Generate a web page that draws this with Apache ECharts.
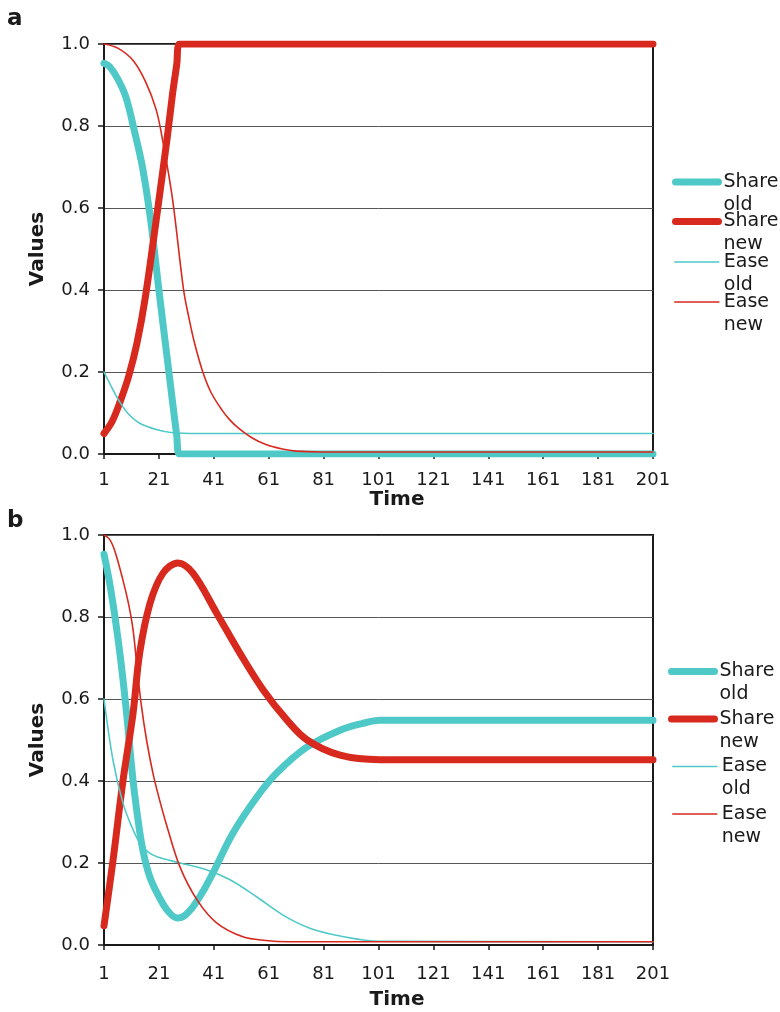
<!DOCTYPE html>
<html>
<head>
<meta charset="utf-8">
<script src="https://cdn.jsdelivr.net/npm/echarts@6/dist/echarts.min.js"></script>
<style>html,body{margin:0;padding:0;background:#fff}#c{width:780px;height:1012px}</style>
</head>
<body>
<div id="c"></div>
<script>
// ---------- data ----------
const seriesNames = ['Share old', 'Share new', 'Ease old', 'Ease new'];
const legendLabels = ['Share\nold', 'Share\nnew', 'Ease\nold', 'Ease\nnew'];
const xTickValues = [1, 21, 41, 61, 81, 101, 121, 141, 161, 181, 201];
const yTickValues = [0.0, 0.2, 0.4, 0.6, 0.8, 1.0];

// Panel a
const aShareOldT = [1, 3, 6, 9, 12, 15, 18, 21, 24, 26, 27.5, 28.5, 201];
const aShareOldV = [0.953, 0.945, 0.915, 0.87, 0.79, 0.70, 0.57, 0.40, 0.235, 0.125, 0.045, 0.0, 0.0];
const aShareNewT = [1, 4, 7, 10, 13, 16, 20, 24, 26, 27.5, 28.5, 201];
const aShareNewV = [0.05, 0.08, 0.13, 0.19, 0.27, 0.38, 0.57, 0.77, 0.88, 0.95, 1.0, 1.0];
const aEaseOldT = [1, 4, 7, 10, 14, 20, 26, 35, 201];
const aEaseOldV = [0.20, 0.16, 0.124, 0.097, 0.075, 0.06, 0.052, 0.05, 0.05];
const aEaseNewT = [1, 6, 11.6, 16, 20, 22.5, 26, 30, 32, 34, 37, 40, 44, 47, 50, 55, 60, 66, 71, 80, 201];
const aEaseNewV = [1.0, 0.99, 0.96, 0.91, 0.84, 0.76, 0.62, 0.40, 0.33, 0.27, 0.20, 0.150, 0.107, 0.082, 0.063, 0.039, 0.023, 0.012, 0.007, 0.005, 0.005];

// Panel b
const bShareOldT = [1, 3, 5, 7, 9, 11.6, 13.5, 15.2, 17.5, 20.3, 24, 27.6, 30, 33.4, 37, 40.7, 48, 56.7, 64, 75, 87, 95, 101.5, 201];
const bShareOldV = [0.953, 0.885, 0.80, 0.70, 0.58, 0.40, 0.30, 0.23, 0.17, 0.127, 0.085, 0.066, 0.07, 0.093, 0.13, 0.176, 0.273, 0.361, 0.42, 0.483, 0.524, 0.540, 0.548, 0.548];
const bShareNewT = [1, 4.3, 7.9, 11.6, 14, 17.8, 22.5, 27.9, 33.4, 42, 50.5, 59, 67.6, 75, 87, 101.5, 201];
const bShareNewV = [0.047, 0.207, 0.40, 0.566, 0.712, 0.834, 0.907, 0.932, 0.907, 0.81, 0.712, 0.622, 0.549, 0.50, 0.463, 0.452, 0.452];
const bEaseOldT = [1, 4.3, 7.9, 11, 14, 17, 20.3, 28.7, 38.5, 46.9, 56.7, 66.2, 76, 87, 101.5, 201];
const bEaseOldV = [0.60, 0.45, 0.346, 0.29, 0.249, 0.227, 0.215, 0.20, 0.183, 0.159, 0.117, 0.073, 0.041, 0.022, 0.009, 0.008];
const bEaseNewT = [1, 3, 5, 7.9, 10, 11.6, 13, 14.5, 16.5, 18.8, 21, 24, 28.7, 34.9, 42, 51.6, 60, 68, 201];
const bEaseNewV = [1.0, 0.99, 0.96, 0.89, 0.83, 0.768, 0.68, 0.59, 0.50, 0.42, 0.36, 0.288, 0.19, 0.11, 0.054, 0.02, 0.011, 0.008, 0.008];

// ---------- styling / layout ----------
const TEAL = '#4fc9c7';
const RED = '#d8291e';
const FONT = 'DejaVu Sans';
const TXT = '#1a1a1a';
const colors = [TEAL, RED, TEAL, RED];
const widths = [7, 7, 1.6, 1.6];

const panels = [
  {top: 44, label: 'a', labelTop: 8, xMargin: 17, nameGap: 35, legendIcons: [182, 221.5, 262, 302], legendLeft: [672, 672, 674, 674], data: [[aShareOldT, aShareOldV], [aShareNewT, aShareNewV], [aEaseOldT, aEaseOldV], [aEaseNewT, aEaseNewV]]},
  {top: 535, label: 'b', labelTop: 510, xMargin: 20, nameGap: 45, legendIcons: [671.5, 719, 766.5, 814], legendLeft: [668, 668, 672, 672], data: [[bShareOldT, bShareOldV], [bShareNewT, bShareNewV], [bEaseOldT, bEaseOldV], [bEaseNewT, bEaseNewV]]}
];
const PLOT_H = 410;
const LH = 23;

const option = {
  animation: false,
  backgroundColor: '#fff',
  title: [], grid: [], xAxis: [], yAxis: [], series: [], legend: []
};

panels.forEach((p, pi) => {
  option.title.push({text: p.label, left: 7, top: p.labelTop, padding: 0,
    textStyle: {fontFamily: FONT, fontWeight: 'bold', fontSize: 23, color: TXT}});
  option.grid.push({left: 104, top: p.top, width: 549, height: PLOT_H, show: true,
    borderColor: '#1a1a1a', borderWidth: 2, backgroundColor: 'transparent'});
  option.xAxis.push({
    type: 'value', gridIndex: pi, min: 0, max: 200, interval: 20,
    name: 'Time', nameLocation: 'middle', nameGap: p.nameGap,
    nameTextStyle: {fontFamily: FONT, fontWeight: 'bold', fontSize: 20, color: TXT, padding: [0, 0, 0, 37]},
    axisLine: {show: true, lineStyle: {color: '#1a1a1a', width: 2}},
    axisTick: {show: true, length: 5, lineStyle: {color: '#1a1a1a', width: 1.5}},
    axisLabel: {fontFamily: FONT, fontSize: 18, color: TXT, margin: p.xMargin,
      formatter: v => String(xTickValues[Math.round(v / 20)])},
    splitLine: {show: false}
  });
  option.yAxis.push({
    type: 'value', gridIndex: pi, min: 0, max: 1, interval: 0.2,
    name: 'Values', nameLocation: 'middle', nameGap: 56,
    nameTextStyle: {fontFamily: FONT, fontWeight: 'bold', fontSize: 20, color: TXT},
    axisLine: {show: true, lineStyle: {color: '#1a1a1a', width: 2}},
    axisTick: {show: true, length: 6, lineStyle: {color: '#1a1a1a', width: 1.5}},
    axisLabel: {fontFamily: FONT, fontSize: 18, color: TXT, margin: 14,
      formatter: v => yTickValues[Math.round(v / 0.2)].toFixed(1)},
    splitLine: {show: true, lineStyle: {color: '#555', width: 1}}
  });
  p.data.forEach((d, si) => {
    const [T, V] = d;
    option.series.push({
      name: seriesNames[si], type: 'line', xAxisIndex: pi, yAxisIndex: pi,
      data: T.map((t, i) => [t - 1, V[i]]),
      symbol: 'none', smooth: 0.35, z: 2 + si,
      lineStyle: {color: colors[si], width: widths[si], cap: 'round', join: 'round'},
      itemStyle: {color: colors[si]}
    });
    const iconY = p.legendIcons[si];
    const boxH = LH * 3;
    option.legend.push({
      orient: 'vertical', left: p.legendLeft[si], top: iconY - boxH / 2, padding: 0,
      selectedMode: false,
      itemWidth: si < 2 ? 43 : 44, itemHeight: 2, itemGap: 0,
      data: [{name: seriesNames[si]}],
      formatter: () => '\u00a0\n' + legendLabels[si],
      itemStyle: {opacity: 0},
      lineStyle: {width: widths[si], color: colors[si], cap: 'round'},
      textStyle: {fontFamily: FONT, fontSize: 19, color: TXT, lineHeight: LH}
    });
  });
});

const chart = echarts.init(document.getElementById('c'), null, {renderer: 'canvas'});
chart.setOption(option);
</script>
</body>
</html>
